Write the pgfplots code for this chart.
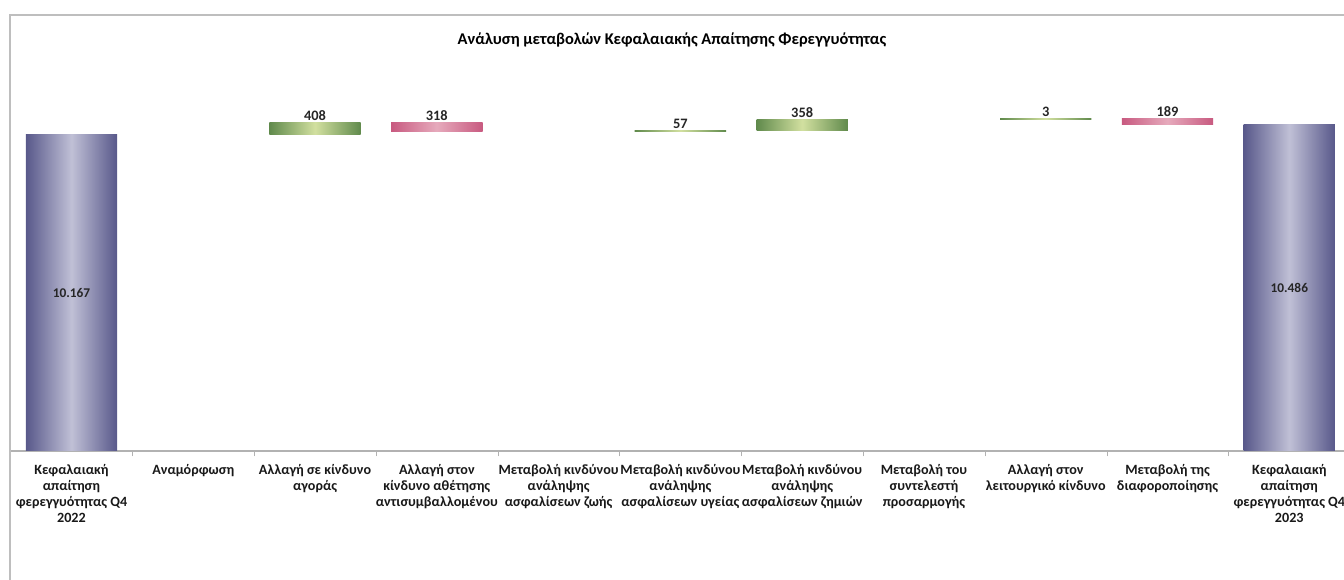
\documentclass[border=0pt]{standalone}
\usepackage{pgfplots}
\pgfplotsset{compat=1.18}
\usepackage{pgfplotstable}
\usetikzlibrary{calc}
\usepackage{fontspec}
\setmainfont{Carlito}

\definecolor{blueedge}{RGB}{88,88,138}
\definecolor{bluemid}{RGB}{192,192,214}
\definecolor{greenedge}{RGB}{96,138,76}
\definecolor{greenmid}{RGB}{210,224,160}
\definecolor{rededge}{RGB}{200,90,128}
\definecolor{redmid}{RGB}{230,170,188}
\definecolor{framegray}{RGB}{190,190,190}

% waterfall: invisible base + one column for each visible bar
% (one plot per bar so that each bar gets its own shading)
\pgfplotstableread{
x base b0 b2 b3 b5 b6 b8 b9 b10
0 0 10167 0 0 0 0 0 0 0
1 0 0 0 0 0 0 0 0 0
2 10167 0 408 0 0 0 0 0 0
3 10257 0 0 318 0 0 0 0 0
4 0 0 0 0 0 0 0 0 0
5 10257 0 0 0 57 0 0 0 0
6 10314 0 0 0 0 358 0 0 0
7 0 0 0 0 0 0 0 0 0
8 10672 0 0 0 0 0 3 0 0
9 10486 0 0 0 0 0 0 189 0
10 0 0 0 0 0 0 0 0 10486
}\wf

% labels of the changes, at the top of each bar
\pgfplotstableread{
x y lab
2 10575 408
3 10575 318
5 10314 57
6 10672 358
8 10675 3
9 10675 189
}\dlab

% labels of the totals, in the middle of the bar
\pgfplotstableread{
x y lab
0 5083 10.167
10 5243 10.486
}\tlab

\pgfplotsset{
  wbar/.style={ybar, bar shift=0pt, draw=none},
  bluebar/.style={wbar, left color=blueedge, right color=blueedge, middle color=bluemid},
  greenbar/.style={wbar, left color=greenedge, right color=greenedge, middle color=greenmid},
  redbar/.style={wbar, left color=rededge, right color=rededge, middle color=redmid},
}

\begin{document}
\begin{tikzpicture}
\begin{axis}[
  name=ax,
  scale only axis,
  width=1004.7pt, height=279.9pt,
  xmin=-0.5, xmax=10.5, ymin=0, ymax=12000,
  stack plots=y,
  stacked ignores zero,
  bar width=0.75,
  clip=false,
  axis x line*=bottom,
  axis y line=none,
  axis line style={draw=gray!60, line width=0.8pt},
  xtick={0,...,10},
  xticklabels={
    {Κεφαλαιακή\\απαίτηση\\φερεγγυότητας Q4\\2022},
    {Αναμόρφωση},
    {Αλλαγή σε κίνδυνο\\αγοράς},
    {Αλλαγή στον\\κίνδυνο αθέτησης\\αντισυμβαλλομένου},
    {Μεταβολή κινδύνου\\ανάληψης\\ασφαλίσεων ζωής},
    {Μεταβολή κινδύνου\\ανάληψης\\ασφαλίσεων υγείας},
    {Μεταβολή κινδύνου\\ανάληψης\\ασφαλίσεων ζημιών},
    {Μεταβολή του\\συντελεστή\\προσαρμογής},
    {Αλλαγή στον\\λειτουργικό κίνδυνο},
    {Μεταβολή της\\διαφοροποίησης},
    {Κεφαλαιακή\\απαίτηση\\φερεγγυότητας Q4\\2023}},
  major tick length=0pt,
  xticklabel style={font=\bfseries\fontsize{10.6}{12}\selectfont, align=center, text=black!90, yshift=-6.5pt},
  extra x ticks={0.5,1.5,...,9.5},
  extra x tick labels={},
  extra x tick style={major tick length=4pt, tick align=outside, tick style={draw=gray!60}},
]
\addplot[wbar, fill=none] table[x=x, y=base] {\wf};
\addplot[bluebar]  table[x expr=0,  y=b0]  {\wf};
\addplot[greenbar] table[x expr=2,  y=b2]  {\wf};
\addplot[redbar]   table[x expr=3,  y=b3]  {\wf};
\addplot[greenbar] table[x expr=5,  y=b5]  {\wf};
\addplot[greenbar] table[x expr=6,  y=b6]  {\wf};
\addplot[greenbar] table[x expr=8,  y=b8]  {\wf};
\addplot[redbar]   table[x expr=9,  y=b9]  {\wf};
\addplot[bluebar]  table[x expr=10, y=b10] {\wf};
% the change of 3 is thinner than a pixel, shown as a line
\addplot[stack plots=false, draw=greenedge!55, line width=1.2pt] coordinates {(7.625,10675) (8.375,10675)};
\addplot[stack plots=false, draw=none, mark=none, nodes near coords, point meta=explicit symbolic,
  nodes near coords style={font=\bfseries\fontsize{10.8}{12}\selectfont, text=black!85, anchor=base, inner sep=0pt, yshift=1.5pt}]
  table[x=x, y=y, meta=lab] {\dlab};
\addplot[stack plots=false, draw=none, mark=none, nodes near coords, point meta=explicit symbolic,
  nodes near coords style={font=\bfseries\fontsize{10}{12}\selectfont, text=black!85, anchor=center}]
  table[x=x, y=y, meta=lab] {\tlab};
\end{axis}
\node[font=\bfseries\fontsize{12.3}{14}\selectfont] at ($(ax.south west)+(496pt,308.25pt)$) {Ανάλυση μεταβολών Κεφαλαιακής Απαίτησης Φερεγγυότητας};
\draw[framegray, line width=0.8pt] ($(ax.south west)+(-0.45pt,-100pt)$) -- ($(ax.south west)+(-0.45pt,327pt)$) -- ($(ax.south west)+(1010pt,327pt)$);
\pgfresetboundingbox
\path[use as bounding box] ($(ax.south west)+(-7.95pt,-96.75pt)$) rectangle ($(ax.south west)+(1000.05pt,338.25pt)$);
\end{tikzpicture}
\end{document}
